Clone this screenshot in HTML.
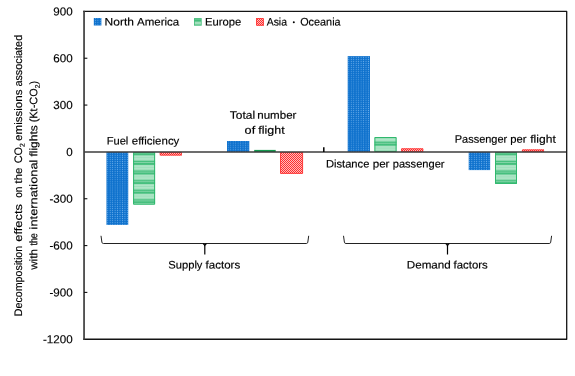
<!DOCTYPE html>
<html><head><meta charset="utf-8"><title>Chart</title>
<style>
html,body{margin:0;padding:0;background:#fff;}
svg{display:block;will-change:transform;text-rendering:geometricPrecision;stroke-linejoin:round;font-family:"Liberation Sans",sans-serif;fill:#000;}
</style></head><body>
<svg width="575" height="376" viewBox="0 0 575 376">
<defs>
<pattern id="pb" patternUnits="userSpaceOnUse" x="106.5" y="152.3" width="2.46" height="2.04">
<rect width="2.46" height="2.04" fill="#0e71cd"/>
<rect x="0.75" y="0.55" width="0.95" height="0.9" fill="#6aadea"/>
</pattern>
<linearGradient id="gg" x1="0" y1="0" x2="0" y2="1">
<stop offset="0" stop-color="#7fd4a7"/>
<stop offset="0.05" stop-color="#a6e2c1"/>
<stop offset="0.16" stop-color="#b0e6c8"/>
<stop offset="0.25" stop-color="#9cdeba"/>
<stop offset="0.34" stop-color="#b0e6c8"/>
<stop offset="0.53" stop-color="#a6e2c1"/>
<stop offset="0.585" stop-color="#48c07f"/>
<stop offset="0.70" stop-color="#43be7c"/>
<stop offset="0.745" stop-color="#80d4a6"/>
<stop offset="0.79" stop-color="#80d4a6"/>
<stop offset="0.835" stop-color="#43be7c"/>
<stop offset="0.955" stop-color="#48c07f"/>
<stop offset="1" stop-color="#7fd4a7"/>
</linearGradient>
<pattern id="pg" patternUnits="userSpaceOnUse" x="0" y="155.3" width="30" height="9.6">
<rect width="30" height="9.6" fill="url(#gg)"/>
</pattern>
<pattern id="pr" patternUnits="userSpaceOnUse" x="280" y="152" width="2" height="2">
<rect width="2" height="2" fill="#ff2e2e"/>
<rect x="1" y="0" width="1" height="1" fill="#ffbcbc"/>
<rect x="0" y="1" width="1" height="1" fill="#ffbcbc"/>
</pattern>
</defs>
<rect width="575" height="376" fill="#fff"/>

<rect x="106.45" y="152.00" width="21.80" height="72.90" fill="url(#pb)"/>
<rect x="227.0" y="141.00" width="22.30" height="11.00" fill="url(#pb)"/>
<rect x="347.7" y="56.10" width="22.30" height="95.90" fill="url(#pb)"/>
<rect x="468.7" y="152.00" width="21.45" height="18.10" fill="url(#pb)"/>
<rect x="133.1" y="152.00" width="22.00" height="52.70" fill="url(#pg)"/>
<rect x="133.6" y="152.50" width="21.00" height="51.70" fill="none" stroke="#30b86d" stroke-width="1"/>
<rect x="254.2" y="149.90" width="21.50" height="2.10" fill="#15994f"/>
<rect x="374.4" y="137.00" width="22.20" height="15.00" fill="url(#pg)"/>
<rect x="374.9" y="137.50" width="21.20" height="14.00" fill="none" stroke="#30b86d" stroke-width="1"/>
<rect x="495.0" y="152.00" width="22.00" height="31.90" fill="url(#pg)"/>
<rect x="495.5" y="152.50" width="21.00" height="30.90" fill="none" stroke="#30b86d" stroke-width="1"/>
<rect x="159.8" y="152.00" width="22.00" height="3.50" fill="url(#pr)"/>
<rect x="160.20000000000002" y="152.40" width="21.20" height="2.70" fill="none" stroke="#ff3030" stroke-width="0.8"/>
<rect x="280.1" y="152.00" width="22.90" height="21.80" fill="url(#pr)"/>
<rect x="280.5" y="152.40" width="22.10" height="21.00" fill="none" stroke="#ff3030" stroke-width="0.8"/>
<rect x="401.2" y="148.40" width="22.00" height="3.60" fill="url(#pr)"/>
<rect x="401.59999999999997" y="148.80" width="21.20" height="2.80" fill="none" stroke="#ff3030" stroke-width="0.8"/>
<rect x="522.0" y="149.50" width="22.00" height="2.50" fill="url(#pr)"/>
<rect x="522.4" y="149.90" width="21.20" height="1.70" fill="none" stroke="#ff3030" stroke-width="0.8"/>
<line x1="84.05" x2="566.7" y1="152.00" y2="152.00" stroke="#3c3c3c" stroke-width="1.6"/>
<line x1="323.8" x2="323.8" y1="147.3" y2="152.00" stroke="#000" stroke-width="1.5"/>
<path d="M83.25 11.4 L566.7 11.4 L566.7 339.25 L83.25 339.25" fill="none" stroke="#141414" stroke-width="1.3"/>
<line x1="84.05" x2="84.05" y1="10.8" y2="339.85" stroke="#3e3e3e" stroke-width="1.7"/>
<text transform="rotate(0.04 72.6 15.45)" x="72.6" y="15.45" font-size="11.6" text-anchor="end" stroke="#000" stroke-width="0.16">900</text>
<line x1="84.05" x2="87.35" y1="58.24" y2="58.24" stroke="#111" stroke-width="1.1"/>
<text transform="rotate(0.04 72.6 62.29)" x="72.6" y="62.29" font-size="11.6" text-anchor="end" stroke="#000" stroke-width="0.16">600</text>
<line x1="84.05" x2="87.35" y1="105.07" y2="105.07" stroke="#111" stroke-width="1.1"/>
<text transform="rotate(0.04 72.6 109.12)" x="72.6" y="109.12" font-size="11.6" text-anchor="end" stroke="#000" stroke-width="0.16">300</text>
<text transform="rotate(0.04 72.6 155.96)" x="72.6" y="155.96" font-size="11.6" text-anchor="end" stroke="#000" stroke-width="0.16">0</text>
<line x1="84.05" x2="87.35" y1="198.74" y2="198.74" stroke="#111" stroke-width="1.1"/>
<text transform="rotate(0.04 72.6 202.79)" x="72.6" y="202.79" font-size="11.6" text-anchor="end" stroke="#000" stroke-width="0.16">-300</text>
<line x1="84.05" x2="87.35" y1="245.58" y2="245.58" stroke="#111" stroke-width="1.1"/>
<text transform="rotate(0.04 72.6 249.63)" x="72.6" y="249.63" font-size="11.6" text-anchor="end" stroke="#000" stroke-width="0.16">-600</text>
<line x1="84.05" x2="87.35" y1="292.41" y2="292.41" stroke="#111" stroke-width="1.1"/>
<text transform="rotate(0.04 72.6 296.46)" x="72.6" y="296.46" font-size="11.6" text-anchor="end" stroke="#000" stroke-width="0.16">-900</text>
<text transform="rotate(0.04 72.6 343.3)" x="72.6" y="343.3" font-size="11.6" text-anchor="end" stroke="#000" stroke-width="0.16">-1200</text>
<rect x="93.8" y="18.0" width="7.6" height="7.5" fill="url(#pb)"/>
<rect x="194.0" y="18.1" width="7.7" height="7.6" fill="#45bd7b"/><rect x="194.8" y="21.6" width="6.1" height="2.9" fill="#a3dfbd"/><rect x="194.8" y="19.4" width="6.1" height="0.6" fill="#6fcd9a"/>
<rect x="256.1" y="18.1" width="7.7" height="7.6" fill="url(#pr)"/><rect x="256.5" y="18.5" width="6.9" height="6.8" fill="none" stroke="#ff3030" stroke-width="0.8"/>
<text transform="rotate(0.04 104.63 25.5)" x="104.63" y="25.5" font-size="10.9" text-anchor="start" textLength="29.29" lengthAdjust="spacingAndGlyphs" stroke="#000" stroke-width="0.16">North</text>
<text transform="rotate(0.04 137.0 25.5)" x="137.0" y="25.5" font-size="10.9" text-anchor="start" textLength="42.27" lengthAdjust="spacingAndGlyphs" stroke="#000" stroke-width="0.16">America</text>
<text transform="rotate(0.04 204.97 25.5)" x="204.97" y="25.5" font-size="10.9" text-anchor="start" textLength="36.29" lengthAdjust="spacingAndGlyphs" stroke="#000" stroke-width="0.16">Europe</text>
<text transform="rotate(0.04 266.66 25.5)" x="266.66" y="25.5" font-size="10.9" text-anchor="start" textLength="20.33" lengthAdjust="spacingAndGlyphs" stroke="#000" stroke-width="0.16">Asia</text>
<text transform="rotate(0.04 300.15 25.5)" x="300.15" y="25.5" font-size="10.9" text-anchor="start" textLength="40.46" lengthAdjust="spacingAndGlyphs" stroke="#000" stroke-width="0.16">Oceania</text>
<text transform="rotate(0.04 106.68 144.5)" x="106.68" y="144.5" font-size="10.9" text-anchor="start" textLength="21.67" lengthAdjust="spacingAndGlyphs" stroke="#000" stroke-width="0.16">Fuel</text>
<text transform="rotate(0.04 131.75 144.5)" x="131.75" y="144.5" font-size="10.9" text-anchor="start" textLength="47.6" lengthAdjust="spacingAndGlyphs" stroke="#000" stroke-width="0.16">efficiency</text>
<text transform="rotate(0.04 229.79 118.8)" x="229.79" y="118.8" font-size="10.9" text-anchor="start" textLength="25.3" lengthAdjust="spacingAndGlyphs" stroke="#000" stroke-width="0.16">Total</text>
<text transform="rotate(0.04 257.29 118.8)" x="257.29" y="118.8" font-size="10.9" text-anchor="start" textLength="39.16" lengthAdjust="spacingAndGlyphs" stroke="#000" stroke-width="0.16">number</text>
<text transform="rotate(0.04 244.61 133.75)" x="244.61" y="133.75" font-size="10.9" text-anchor="start" textLength="10.61" lengthAdjust="spacingAndGlyphs" stroke="#000" stroke-width="0.16">of</text>
<text transform="rotate(0.04 258.3 133.75)" x="258.3" y="133.75" font-size="10.9" text-anchor="start" textLength="26.31" lengthAdjust="spacingAndGlyphs" stroke="#000" stroke-width="0.16">flight</text>
<text transform="rotate(0.04 325.9 167.6)" x="325.9" y="167.6" font-size="10.9" text-anchor="start" textLength="43.48" lengthAdjust="spacingAndGlyphs" stroke="#000" stroke-width="0.16">Distance</text>
<text transform="rotate(0.04 372.66 167.6)" x="372.66" y="167.6" font-size="10.9" text-anchor="start" textLength="16.83" lengthAdjust="spacingAndGlyphs" stroke="#000" stroke-width="0.16">per</text>
<text transform="rotate(0.04 392.73 167.6)" x="392.73" y="167.6" font-size="10.9" text-anchor="start" textLength="51.77" lengthAdjust="spacingAndGlyphs" stroke="#000" stroke-width="0.16">passenger</text>
<text transform="rotate(0.04 454.75 142.65)" x="454.75" y="142.65" font-size="10.9" text-anchor="start" textLength="52.5" lengthAdjust="spacingAndGlyphs" stroke="#000" stroke-width="0.16">Passenger</text>
<text transform="rotate(0.04 510.25 142.65)" x="510.25" y="142.65" font-size="10.9" text-anchor="start" textLength="16.28" lengthAdjust="spacingAndGlyphs" stroke="#000" stroke-width="0.16">per</text>
<text transform="rotate(0.04 530.25 142.65)" x="530.25" y="142.65" font-size="10.9" text-anchor="start" textLength="25.5" lengthAdjust="spacingAndGlyphs" stroke="#000" stroke-width="0.16">flight</text>
<text transform="rotate(0.04 168.3 268.6)" x="168.3" y="268.6" font-size="10.9" text-anchor="start" textLength="34.16" lengthAdjust="spacingAndGlyphs" stroke="#000" stroke-width="0.16">Supply</text>
<text transform="rotate(0.04 205.61 268.6)" x="205.61" y="268.6" font-size="10.9" text-anchor="start" textLength="34.62" lengthAdjust="spacingAndGlyphs" stroke="#000" stroke-width="0.16">factors</text>
<text transform="rotate(0.04 406.77 268.6)" x="406.77" y="268.6" font-size="10.9" text-anchor="start" textLength="44.03" lengthAdjust="spacingAndGlyphs" stroke="#000" stroke-width="0.16">Demand</text>
<text transform="rotate(0.04 453.5 268.6)" x="453.5" y="268.6" font-size="10.9" text-anchor="start" textLength="34.22" lengthAdjust="spacingAndGlyphs" stroke="#000" stroke-width="0.16">factors</text>
<circle cx="293.8" cy="22.2" r="1.0" fill="#000"/>
<path d="M101.0 235.8 L101.9 242.2 Q102.1 243.5 103.4 243.5 L306.3 243.5 Q307.59999999999997 243.5 307.8 242.2 L308.7 235.8" fill="none" stroke="#222" stroke-width="1"/><path d="M203.0 243.6 Q204.8 244 204.8 246.6 L204.8 254.4 M206.60000000000002 243.6 Q204.8 244 204.8 246.6" fill="none" stroke="#000" stroke-width="1.2"/>
<path d="M343.5 235.8 L344.4 242.2 Q344.6 243.5 345.9 243.5 L549.2 243.5 Q550.5 243.5 550.7 242.2 L551.6 235.8" fill="none" stroke="#222" stroke-width="1"/><path d="M445.7 243.6 Q447.5 244 447.5 246.6 L447.5 254.4 M449.3 243.6 Q447.5 244 447.5 246.6" fill="none" stroke="#000" stroke-width="1.2"/>
<text transform="translate(22.0 316.13) rotate(-90.04)" x="0" y="0" font-size="10.9" textLength="70.34" lengthAdjust="spacingAndGlyphs" stroke="#000" stroke-width="0.16">Decomposition</text>
<text transform="translate(22.0 241.68) rotate(-90.04)" x="0" y="0" font-size="10.9" textLength="37.54" lengthAdjust="spacingAndGlyphs" stroke="#000" stroke-width="0.16">effects</text>
<text transform="translate(22.0 197.87) rotate(-90.04)" x="0" y="0" font-size="10.9" textLength="11.08" lengthAdjust="spacingAndGlyphs" stroke="#000" stroke-width="0.16">on</text>
<text transform="translate(22.0 183.42) rotate(-90.04)" x="0" y="0" font-size="10.9" textLength="15.74" lengthAdjust="spacingAndGlyphs" stroke="#000" stroke-width="0.16">the</text>
<text transform="translate(22.0 163.37) rotate(-90.04)" x="0" y="0" font-size="10.9" textLength="20.27" lengthAdjust="spacingAndGlyphs" stroke="#000" stroke-width="0.16">CO<tspan font-size="6.8" dy="2.6">2</tspan></text>
<text transform="translate(22.0 140.92) rotate(-90.04)" x="0" y="0" font-size="10.9" textLength="51.42" lengthAdjust="spacingAndGlyphs" stroke="#000" stroke-width="0.16">emissions</text>
<text transform="translate(22.0 86.60) rotate(-90.04)" x="0" y="0" font-size="10.9" textLength="51.77" lengthAdjust="spacingAndGlyphs" stroke="#000" stroke-width="0.16">associated</text>
<text transform="translate(37.2 269.84) rotate(-90.04)" x="0" y="0" font-size="10.9" textLength="20.80" lengthAdjust="spacingAndGlyphs" stroke="#000" stroke-width="0.16">with</text>
<text transform="translate(37.2 245.60) rotate(-90.04)" x="0" y="0" font-size="10.9" textLength="12.46" lengthAdjust="spacingAndGlyphs" stroke="#000" stroke-width="0.16">the</text>
<text transform="translate(37.2 229.41) rotate(-90.04)" x="0" y="0" font-size="10.9" textLength="69.85" lengthAdjust="spacingAndGlyphs" stroke="#000" stroke-width="0.16">international</text>
<text transform="translate(37.2 156.62) rotate(-90.04)" x="0" y="0" font-size="10.9" textLength="31.33" lengthAdjust="spacingAndGlyphs" stroke="#000" stroke-width="0.16">flights</text>
<text transform="translate(37.2 122.31) rotate(-90.04)" x="0" y="0" font-size="10.9" textLength="41.48" lengthAdjust="spacingAndGlyphs" stroke="#000" stroke-width="0.16">(Kt-CO<tspan font-size="6.8" dy="2.6">2</tspan><tspan dy="-2.6">)</tspan></text>
</svg></body></html>
